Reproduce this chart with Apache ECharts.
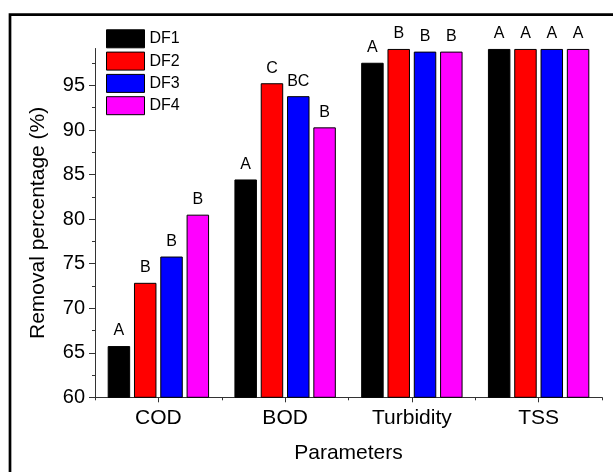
<!DOCTYPE html>
<html>
<head>
<meta charset="utf-8">
<script src="https://cdn.jsdelivr.net/npm/echarts@6/dist/echarts.min.js"></script>
<style>html,body{margin:0;padding:0;background:#fff;}#c{width:613px;height:474px;}</style>
</head>
<body>
<div id="c"></div>
<script>
const categories = ['COD', 'BOD', 'Turbidity', 'TSS'];
const seriesNames = ['DF1', 'DF2', 'DF3', 'DF4'];
const df1 = [65.75, 84.45, 97.55, 99.1];
const df2 = [72.85, 95.25, 99.1, 99.1];
const df3 = [75.8, 93.8, 98.8, 99.1];
const df4 = [80.5, 90.3, 98.8, 99.1];
const letters1 = ['A', 'A', 'A', 'A'];
const letters2 = ['B', 'C', 'B', 'A'];
const letters3 = ['B', 'BC', 'B', 'A'];
const letters4 = ['B', 'B', 'B', 'A'];
const yMajorTicks = [60, 65, 70, 75, 80, 85, 90, 95];
const yMinorTicks = [62.5, 67.5, 72.5, 77.5, 82.5, 87.5, 92.5, 97.5];
const yMin = 60, yMax = 99.15;

const colors = ['#000000', '#ff0000', '#0000ff', '#ff00ff'];
const allData = [df1, df2, df3, df4];
const allLetters = [letters1, letters2, letters3, letters4];
const FONT = 'Liberation Sans, Arial, sans-serif';

const chart = echarts.init(document.getElementById('c'), null, {renderer: 'canvas'});
chart.setOption({
  animation: false,
  backgroundColor: '#fff',
  textStyle: {fontFamily: FONT, color: '#000'},
  grid: {left: 95, right: 11, top: 48.5, bottom: 76.7, containLabel: false},
  legend: {
    orient: 'vertical', left: 106, top: 29.3, padding: 0,
    itemWidth: 38, itemHeight: 18, itemGap: 3.3,
    icon: 'rect',
    textStyle: {fontFamily: FONT, fontSize: 16, color: '#000', padding: [0, 0, 0, 0]},
    itemStyle: {borderColor: '#000', borderWidth: 1},
    data: seriesNames
  },
  xAxis: [{
    type: 'category', data: categories, position: 'bottom',
    name: 'Parameters', nameLocation: 'middle', nameGap: 45,
    nameTextStyle: {fontFamily: FONT, fontSize: 21, color: '#000'},
    axisLine: {lineStyle: {color: '#333', width: 1}},
    axisTick: {show: true, alignWithLabel: true, length: 5, inside: false, lineStyle: {color: '#333'}},
    axisLabel: {fontFamily: FONT, fontSize: 21, color: '#000', margin: 10},
    splitLine: {show: false}
  }, {
    type: 'category', data: categories, position: 'bottom',
    axisLine: {show: false},
    axisTick: {show: true, alignWithLabel: false, length: 3, lineStyle: {color: '#333'}},
    axisLabel: {show: false},
    splitLine: {show: false}
  }],
  yAxis: [{
    type: 'value', min: yMin, max: yMax,
    name: 'Removal percentage (%)', nameLocation: 'middle', nameGap: 46,
    nameRotate: 90,
    nameTextStyle: {fontFamily: FONT, fontSize: 21, color: '#000'},
    axisLine: {show: true, lineStyle: {color: '#333', width: 1}},
    axisTick: {show: true, length: 6, customValues: yMajorTicks, lineStyle: {color: '#333'}},
    axisLabel: {fontFamily: FONT, fontSize: 20, color: '#000', margin: 10, customValues: yMajorTicks},
    splitLine: {show: false}
  }, {
    type: 'value', min: yMin, max: yMax, position: 'left',
    axisLine: {show: false},
    axisTick: {show: true, length: 3, customValues: yMinorTicks, lineStyle: {color: '#333'}},
    axisLabel: {show: false},
    splitLine: {show: false}
  }],
  series: seriesNames.map((n, i) => ({
    name: n, type: 'bar', xAxisIndex: 0, yAxisIndex: 0,
    data: allData[i],
    barGap: '17%', barCategoryGap: '20%',
    itemStyle: {color: colors[i], borderColor: '#000', borderWidth: 1},
    label: {
      show: true, position: 'top', distance: 7,
      fontFamily: FONT, fontSize: 16, color: '#000',
      formatter: p => allLetters[i][p.dataIndex]
    }
  })),
  graphic: [{
    type: 'polyline', silent: true,
    shape: {points: [[10, 472], [10, 14.7], [613, 14.7]]},
    style: {stroke: '#000', lineWidth: 2.7, fill: null}
  }]
});
</script>
</body>
</html>
